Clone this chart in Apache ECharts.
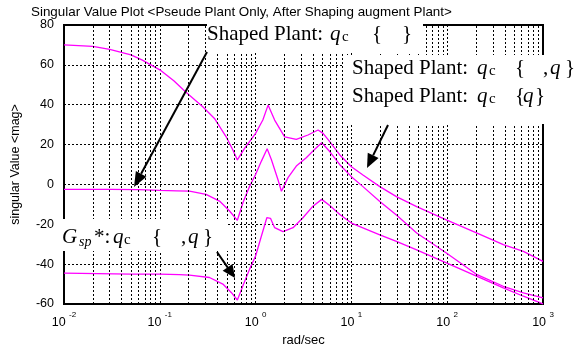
<!DOCTYPE html>
<html><head><meta charset="utf-8">
<script src="https://cdn.jsdelivr.net/npm/echarts@6/dist/echarts.min.js"></script>
<style>html,body{margin:0;padding:0;background:#fff}#c{width:584px;height:345px}</style>
</head><body><div id="c"></div><script>
// Singular value curves (frequency in rad/sec, magnitude)
const freqTop = [0.01,0.02,0.03,0.05,0.065,0.1,0.14,0.176,0.204,0.281,0.372,0.493,0.579,0.645,0.767,1.0,1.19,1.35,1.58,2.01,2.66,3.52,4.49,5.06,5.94,7.57,10,13.2,19.8,29.5,48,98,205,385,624,1000];
const magTop  = [70,69.3,67.8,65,62.5,57.5,52,47.5,44.8,39,33.1,23.9,17.3,12.3,18.1,25.6,32.3,39.8,32.3,23.9,22.6,24.8,27.3,25.6,21.5,14.8,8.9,4.75,-1.1,-6.1,-11.1,-17.75,-24.4,-30.25,-33.6,-38.6];

const freqMid = [0.01,0.03,0.06,0.1,0.15,0.204,0.304,0.42,0.535,0.645,0.737,0.866,1.0,1.15,1.32,1.46,1.71,1.86,2.18,2.66,3.38,4.12,4.9,5.94,7.57,10,13.2,19.8,29.5,48,98,205,385,624,1000];
const magMid  = [-2.5,-2.5,-2.6,-3,-3.2,-3.35,-5,-8.35,-13.35,-18,-9.2,-0.9,5,11.7,17.9,12.5,2.5,-3.4,3.4,9.2,13.4,17.5,20.9,16.5,9.9,3.9,-1.1,-8.6,-15.3,-24.4,-34.4,-45.3,-51.1,-54.4,-56.9];

const freqLow = [0.01,0.05,0.1,0.16,0.204,0.33,0.455,0.557,0.645,0.737,0.866,1.0,1.15,1.31,1.43,1.58,1.93,2.46,3.12,3.97,4.9,5.94,7.57,10,19.8,29.5,48,98,205,385,624,1000];
const magLow  = [-44.5,-45,-45,-45.3,-45.5,-46.7,-50,-54.2,-58,-50.9,-42.5,-35.9,-25.9,-16.7,-17,-21.7,-23.7,-21.7,-16.7,-10.9,-7.5,-10.6,-15.1,-19.4,-25.3,-28.6,-32.8,-39.4,-46.1,-51.9,-56.1,-59.9];

const yTicks = [-60,-40,-20,0,20,40,60,80];

// minor log grid lines (2..9 within each decade)
const minorGrid = [];
for (let d = -2; d <= 2; d++) for (let k = 2; k <= 9; k++) minorGrid.push(+(k * Math.pow(10, d)).toPrecision(3));

const MAG = '#ff00ff';
const SANS = "'Liberation Sans', Arial, Helvetica, sans-serif";
const SERIF = "'Liberation Serif', 'Times New Roman', serif";
const gridDash = { color: '#000', width: 1, type: [2, 2] };

function zip(f, m) { return f.map((x, i) => [x, m[i]]); }

function curve(data) {
  return { type: 'line', data: data, showSymbol: false, symbol: 'none', smooth: false,
    lineStyle: { color: MAG, width: 1.3 }, itemStyle: { color: MAG }, z: 3, silent: true };
}

// annotation helpers
function piece(x, y, text, size, italic) {
  return { type: 'text', x: x, y: y, z: 103, silent: true,
    style: { text: text, font: (italic ? 'italic ' : '') + size + 'px ' + SERIF, fill: '#000',
      verticalAlign: 'middle', align: 'left' } };
}
function box(x, y, w, h) {
  return { type: 'rect', z: 100, silent: true, shape: { x: x, y: y, width: w, height: h }, style: { fill: '#fff' } };
}
function arrow(x1, y1, x2, y2, len, half) {
  const dx = x2 - x1, dy = y2 - y1, L = Math.hypot(dx, dy), ux = dx / L, uy = dy / L;
  const bx = x2 - ux * len, by = y2 - uy * len;
  return [
    { type: 'line', z: 101, silent: true, shape: { x1: x1, y1: y1, x2: bx, y2: by }, style: { stroke: '#000', lineWidth: 2 } },
    { type: 'polygon', z: 101, silent: true, shape: { points: [[x2, y2], [bx - uy * half, by + ux * half], [bx + uy * half, by - ux * half]] }, style: { fill: '#000' } }
  ];
}

const graphics = [
  box(207, 20, 216, 32),
  box(344, 55, 240, 69),
  box(57, 219, 171, 32),
  // Shaped Plant: q_c { }
  piece(207, 34.5, 'Shaped Plant:', 21, false),
  piece(330, 34.5, 'q', 21, true),
  piece(342, 37.5, 'c', 15, false),
  piece(372, 34.5, '{', 21, false),
  piece(402, 34.5, '}', 21, false),
  // Shaped Plant: q_c { , q}
  piece(352, 68, 'Shaped Plant:', 21, false),
  piece(477, 68, 'q', 21, true),
  piece(489, 71, 'c', 15, false),
  piece(515, 68, '{', 21, false),
  piece(543, 68, ',', 21, false),
  piece(550, 68, 'q', 21, true),
  piece(565, 68, '}', 21, false),
  // Shaped Plant: q_c {q}
  piece(352, 96, 'Shaped Plant:', 21, false),
  piece(477, 96, 'q', 21, true),
  piece(489, 99, 'c', 15, false),
  piece(515, 96, '{', 21, false),
  piece(523, 96, 'q', 21, true),
  piece(535, 96, '}', 21, false),
  // G_sp*: q_c { , q}
  piece(62, 237, 'G', 21, true),
  piece(79, 242, 'sp', 14, true),
  piece(94, 237, '*:', 21, false),
  piece(113, 237, 'q', 21, true),
  piece(124, 240, 'c', 15, false),
  piece(152, 237, '{', 21, false),
  piece(181, 237, ',', 21, false),
  piece(188, 237, 'q', 21, true),
  piece(203, 237, '}', 21, false)
].concat(
  arrow(207, 52, 134, 187, 15, 6),
  arrow(388, 125, 367, 168, 14, 6),
  arrow(217, 252, 235, 278, 13, 6)
);

const chart = echarts.init(document.getElementById('c'), null, { renderer: 'canvas' });
chart.setOption({
  animation: false,
  backgroundColor: '#fff',
  title: { text: 'Singular Value Plot <Pseude Plant Only, After Shaping augment Plant>', left: 26, top: 1,
    textStyle: { fontSize: 13.4, fontWeight: 'normal', color: '#000', fontFamily: SANS } },
  grid: { left: 64, right: 41, top: 25, bottom: 41, show: true, containLabel: false, outerBoundsMode: 'none',
    borderColor: '#000', borderWidth: 2, backgroundColor: 'transparent' },
  xAxis: {
    type: 'log', logBase: 10, min: 0.01, max: 1000,
    name: 'rad/sec', nameLocation: 'middle', nameGap: 24,
    nameTextStyle: { fontSize: 13, color: '#000', fontFamily: SANS },
    axisLine: { onZero: false, lineStyle: { color: '#000', width: 2 } },
    axisTick: { show: false },
    splitLine: { show: true, lineStyle: gridDash },
    axisLabel: {
      margin: 11, color: '#000', fontFamily: SANS,
      formatter: v => '{b|10} {s|' + Math.round(Math.log10(v)) + '}',
      rich: {
        b: { fontSize: 12.5, lineHeight: 14, verticalAlign: 'bottom', fontFamily: SANS, color: '#000' },
        s: { fontSize: 8, lineHeight: 10, padding: [0, 0, 10, 0], verticalAlign: 'bottom', fontFamily: SANS, color: '#000' }
      }
    }
  },
  yAxis: {
    type: 'value', min: -60, max: 80, interval: 20,
    name: 'singular Value <mag>', nameLocation: 'middle', nameGap: 42, nameRotate: 90,
    nameTextStyle: { fontSize: 12.5, color: '#000', fontFamily: SANS },
    axisLine: { show: true, onZero: false, lineStyle: { color: '#000', width: 2 } },
    axisTick: { show: false },
    splitLine: { show: true, lineStyle: gridDash },
    axisLabel: { margin: 10, fontSize: 12.5, color: '#000', fontFamily: SANS,
      formatter: v => (yTicks.indexOf(v) >= 0 ? String(v) : '') }
  },
  series: [
    { type: 'line', data: [], z: 1, silent: true,
      markLine: { silent: true, symbol: ['none', 'none'], animation: false,
        label: { show: false }, lineStyle: gridDash,
        data: minorGrid.map(v => ({ xAxis: v })) } },
    curve(zip(freqTop, magTop)),
    curve(zip(freqMid, magMid)),
    curve(zip(freqLow, magLow))
  ],
  graphic: graphics
});
</script></body></html>
